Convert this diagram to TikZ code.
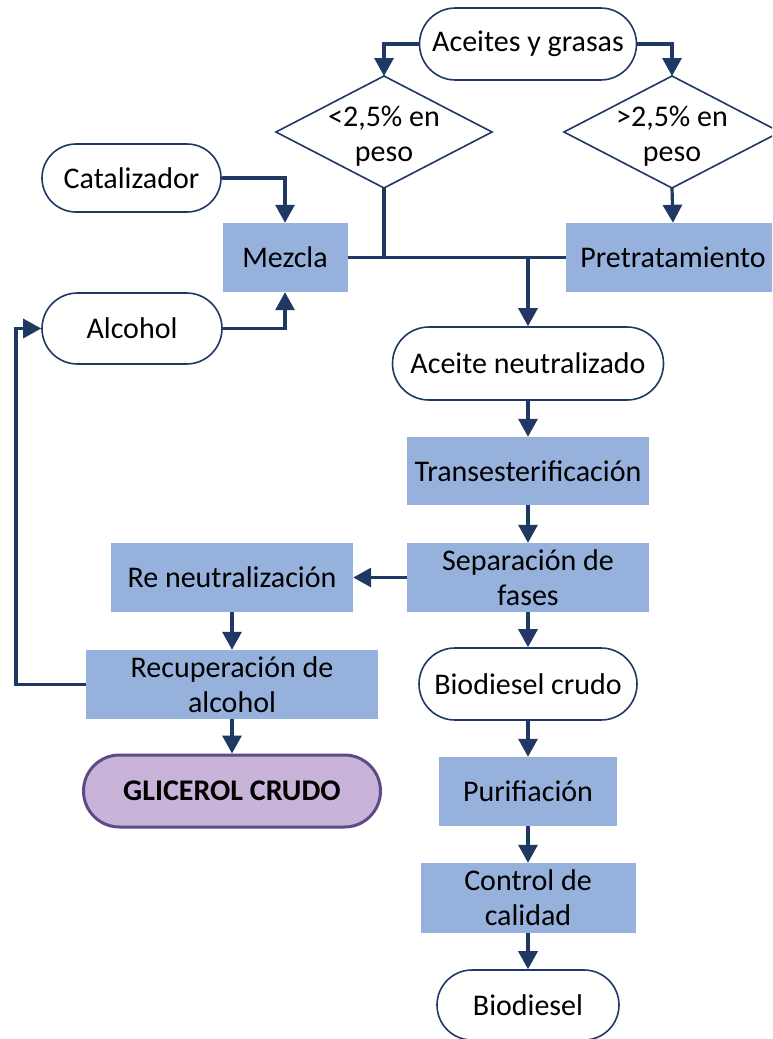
\documentclass[tikz,border=0pt]{standalone}
\usepackage{fontspec}
\setmainfont{Carlito}
\usetikzlibrary{arrows.meta,shapes.misc}
\definecolor{navy}{HTML}{203864}
\definecolor{boxblue}{HTML}{97B1DD}
\definecolor{lav}{HTML}{C8B4D8}
\definecolor{purp}{HTML}{5F4A86}
\tikzset{
  txt/.style={font=\fontsize{30}{35}\selectfont, align=center, text=black, inner sep=0pt},
  box/.style={txt, fill=boxblue, draw=none},
  term/.style={txt, rounded rectangle, draw=navy, line width=1.6pt, fill=white},
  glic/.style={txt, rounded rectangle, draw=purp, line width=3pt, fill=lav, font=\fontsize{30}{35}\selectfont\bfseries},
  dline/.style={draw=navy, line width=1.6pt},
  conn/.style={draw=navy, line width=3.2pt},
  thinconn/.style={draw=navy, line width=2.2pt},
  arr/.style={conn, -{Triangle[width=19pt,length=18pt]}},
}
\begin{document}
\begin{tikzpicture}[x=1pt,y=-1pt]
\useasboundingbox (0,0) rectangle (772,1039);
\clip (0,0) rectangle (772,1039);
\fill[white] (0,0) rectangle (772,1039);
% terminals
\node[term, minimum width=217pt, minimum height=72pt] (aceites) at (528,44) {Aceites y grasas};
\node[term, minimum width=179pt, minimum height=68pt] (cat) at (131.5,178) {Catalizador};
\node[term, minimum width=180pt, minimum height=71pt] (alcohol) at (132,328.5) {Alcohol};
\node[term, minimum width=271pt, minimum height=73pt] (aneut) at (528,363.5) {Aceite neutralizado};
\node[term, minimum width=218pt, minimum height=72pt] (bcrudo) at (528,684) {Biodiesel crudo};
\node[term, minimum width=182pt, minimum height=70pt] (biod) at (528,1005) {Biodiesel};
\node[glic, minimum width=297pt, minimum height=72pt] (glicerol) at (232,791) {GLICEROL CRUDO};
% diamonds
\draw[dline, fill=white] (276,132) -- (384,76) -- (492,132) -- (384,188) -- cycle;
\draw[dline, fill=white] (564,132) -- (672,76) -- (780,132) -- (672,188) -- cycle;
\coordinate (d1t) at (384,76);
\coordinate (d1b) at (384,188);
\coordinate (d2t) at (672,76);
\coordinate (d2b) at (672,188);
\node[txt] (d1) at (384,136) {<2,5\% en\\peso};
\node[txt] (d2) at (672,136) {>2,5\% en\\peso};
% process boxes
\node[box, minimum width=125pt, minimum height=69pt] (mezcla) at (285,257.5) {Mezcla};
\node[box, minimum width=214pt, minimum height=69pt] (pret) at (673,257.5) {Pretratamiento};
\node[box, minimum width=242pt, minimum height=68pt] (trans) at (528,471) {Transesterificación};
\node[box, minimum width=242pt, minimum height=69pt] (sep) at (528,577.5) {Separación de\\fases};
\node[box, minimum width=242pt, minimum height=69pt] (reneu) at (232,577.5) {Re neutralización};
\node[box, minimum width=292pt, minimum height=69pt] (recup) at (232,684.5) {Recuperación de\\alcohol};
\node[box, minimum width=178pt, minimum height=69pt] (puri) at (528,791.5) {Purifiación};
\node[box, minimum width=215pt, minimum height=70pt] (control) at (528,898) {Control de\\calidad};
% connectors
\draw[arr] (aceites.west) -| (d1t);
\draw[arr] (aceites.east) -| (d2t);
\draw[arr] (cat.east) -| (mezcla.north);
\draw[arr] (alcohol.east) -| (mezcla.south);
\draw[arr] (d2b) -- (pret.north);
\coordinate (j1) at (384,257.5);
\coordinate (j2) at (528,257.5);
\draw[thinconn] (mezcla.east) -- (j1);
\draw[thinconn] (j2) -- (pret.west);
\draw[conn] (d1b) -- (j1) -- (j2);
\draw[arr] (j2) -- (aneut.north);
\draw[arr] (aneut.south) -- (trans.north);
\draw[arr] (trans.south) -- (sep.north);
\draw[arr] (sep.south) -- (bcrudo.north);
\draw[arr] (bcrudo.south) -- (puri.north);
\draw[arr] (puri.south) -- (control.north);
\draw[arr] (control.south) -- (biod.north);
\draw[arr] (sep.west) -- (reneu.east);
\draw[arr] (reneu.south) -- (recup.north);
\draw[arr] (recup.south) -- (glicerol.north);
\coordinate (fb) at (16,328.5);
\draw[arr] (recup.west) -| (fb) -- (alcohol.west);
\end{tikzpicture}
\end{document}
